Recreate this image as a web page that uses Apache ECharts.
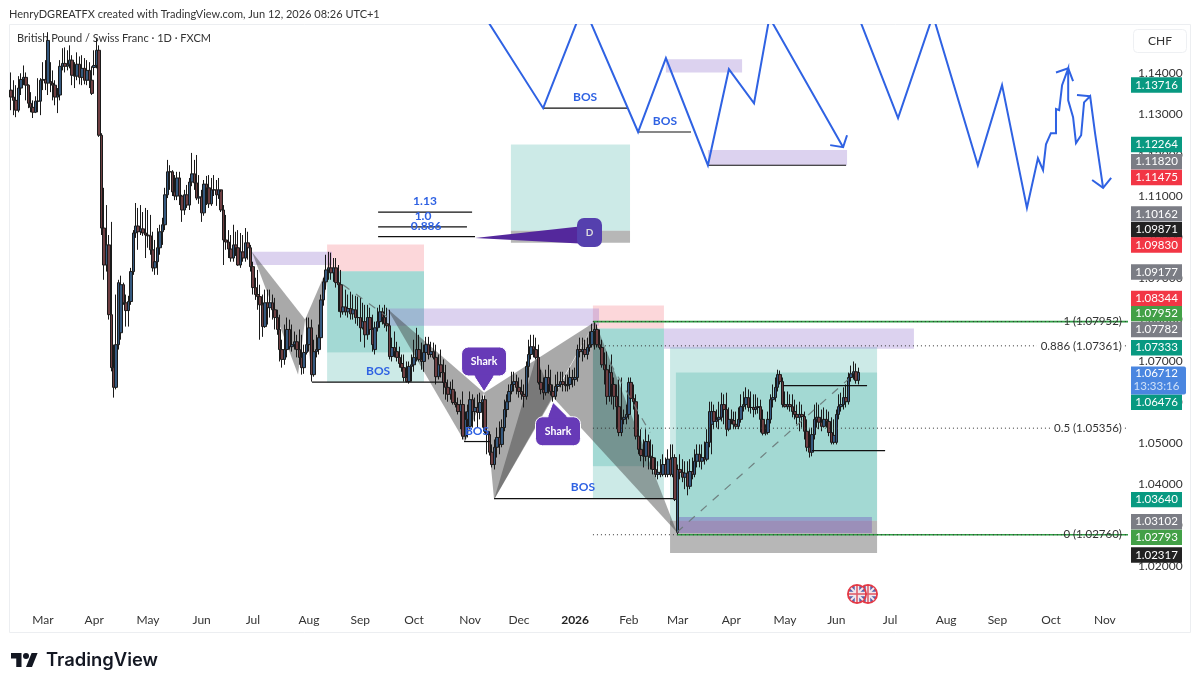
<!DOCTYPE html>
<html>
<head>
<meta charset="utf-8">
<style>html,body{margin:0;padding:0;background:#fff}#chart{width:1200px;height:688px}</style>
<script src="https://cdn.jsdelivr.net/npm/echarts@6/dist/echarts.min.js"></script>
</head>
<body>
<div id="chart"></div>
<script>
// GBP/CHF daily candles, one line per calendar month (Feb 2025 to Jun 2026)
const opens = [
1.1359,1.1342,1.1334,1.1310,1.1364,1.1385,1.1390,1.1371,1.1327,1.1317,1.1305,1.1332,1.1332,
1.1383,1.1385,1.1376,1.1380,1.1376,1.1371,1.1342,1.1347,1.1417,1.1424,1.1417,1.1422,1.1432,1.1395,1.1393,1.1422,1.1390,1.1412,1.1383,1.1407,1.1383,
1.1414,1.1419,1.1456,1.1249,1.1023,1.0933,1.0982,1.0812,1.0683,1.0635,1.0739,1.0768,1.0885,1.0841,1.0822,1.0844,1.0917,1.1011,1.1028,1.1014,1.1021,1.1011,
1.1006,1.1004,1.0970,1.0926,1.0941,1.0975,1.1014,1.1031,1.1104,1.1160,1.1160,1.1111,1.1101,1.1145,1.1101,1.1067,1.1104,1.1079,1.1135,1.1155,1.1133,1.1096,
1.1099,1.1060,1.1130,1.1121,1.1082,1.1116,1.1116,1.1104,1.1116,1.1067,1.0994,1.0989,1.0972,1.0950,1.0982,1.0975,1.0933,1.0965,1.0950,1.0987,1.0975,
1.0929,1.0878,1.0861,1.0856,1.0836,1.0783,1.0841,1.0829,1.0841,1.0824,1.0805,1.0776,1.0727,1.0703,1.0727,1.0776,1.0734,1.0739,1.0746,1.0727,1.0708,1.0683,1.0720,
1.0739,1.0780,1.0666,1.0722,1.0727,1.0756,1.0848,1.0892,1.0921,1.0926,1.0914,1.0926,1.0890,1.0885,1.0819,1.0831,1.0819,1.0827,1.0814,1.0824,1.0805,
1.0805,1.0780,1.0795,1.0763,1.0805,1.0776,1.0727,1.0780,1.0795,1.0819,1.0805,1.0790,1.0785,1.0710,1.0732,1.0722,1.0708,1.0693,1.0683,1.0659,1.0649,1.0686,
1.0690,1.0708,1.0727,1.0703,1.0698,1.0720,1.0739,1.0715,1.0722,1.0708,1.0661,1.0690,1.0671,1.0647,1.0635,1.0618,1.0630,1.0598,1.0593,1.0576,1.0593,1.0516,1.0557,
1.0540,1.0605,1.0576,1.0586,1.0574,1.0598,1.0605,1.0528,1.0520,1.0477,1.0447,1.0489,1.0513,1.0496,1.0537,1.0581,1.0600,1.0625,1.0642,1.0649,
1.0635,1.0625,1.0618,1.0613,1.0686,1.0715,1.0734,1.0727,1.0708,1.0647,1.0630,1.0622,1.0659,1.0642,1.0625,1.0613,1.0637,1.0642,1.0649,1.0642,1.0639,1.0642,1.0659,
1.0654,1.0659,1.0727,1.0722,1.0727,1.0715,1.0732,1.0739,1.0771,1.0776,1.0739,1.0732,1.0690,1.0678,1.0613,1.0671,1.0642,1.0613,1.0588,1.0525,1.0557,1.0562,
1.0569,1.0647,1.0608,1.0600,1.0516,1.0484,1.0469,1.0467,1.0503,1.0467,1.0464,1.0435,1.0423,1.0428,1.0423,1.0447,1.0423,1.0460,1.0423,1.0464,
1.0282,1.0435,1.0428,1.0416,1.0426,1.0394,1.0430,1.0423,1.0455,1.0472,1.0455,1.0464,1.0460,1.0501,1.0545,1.0576,1.0552,1.0557,1.0562,1.0593,1.0581,1.0533,
1.0557,1.0554,1.0545,1.0540,1.0557,1.0588,1.0593,1.0610,1.0586,1.0586,1.0581,1.0586,1.0588,1.0557,1.0523,1.0525,1.0557,1.0605,1.0610,1.0635,1.0666,1.0649,
1.0593,1.0588,1.0593,1.0588,1.0576,1.0569,1.0562,1.0569,1.0564,1.0528,1.0489,1.0477,1.0520,1.0557,1.0562,1.0550,1.0540,1.0557,1.0552,1.0525,1.0501,
1.0501,1.0569,1.0588,1.0593,1.0610,1.0600,1.0659,1.0668,1.0673,1.0652];
const closes = [
1.1342,1.1334,1.1310,1.1364,1.1385,1.1390,1.1371,1.1327,1.1317,1.1305,1.1332,1.1332,1.1383,
1.1385,1.1376,1.1480,1.1376,1.1371,1.1342,1.1347,1.1417,1.1424,1.1417,1.1422,1.1432,1.1395,1.1393,1.1422,1.1390,1.1412,1.1383,1.1407,1.1383,1.1351,
1.1419,1.1456,1.1249,1.1023,1.0933,1.0982,1.0812,1.0683,1.0635,1.0739,1.0890,1.0885,1.0841,1.0822,1.0844,1.0917,1.1011,1.1028,1.1014,1.1021,1.1011,1.1006,
1.1004,1.0970,1.0926,1.0941,1.0975,1.1014,1.1031,1.1104,1.1160,1.1160,1.1111,1.1101,1.1145,1.1101,1.1067,1.1104,1.1079,1.1135,1.1155,1.1133,1.1096,1.1099,
1.1060,1.1130,1.1121,1.1082,1.1116,1.1116,1.1104,1.1116,1.1067,1.0994,1.0989,1.0972,1.0950,1.0982,1.0975,1.0933,1.0965,1.0950,1.0987,1.0975,1.0929,
1.0878,1.0861,1.0856,1.0836,1.0783,1.0841,1.0829,1.0841,1.0824,1.0805,1.0776,1.0727,1.0703,1.0727,1.0776,1.0734,1.0739,1.0746,1.0727,1.0708,1.0683,1.0720,1.0739,
1.0780,1.0666,1.0722,1.0727,1.0756,1.0848,1.0892,1.0921,1.0926,1.0914,1.0926,1.0890,1.0885,1.0819,1.0831,1.0819,1.0827,1.0814,1.0824,1.0805,1.0805,
1.0780,1.0795,1.0763,1.0805,1.0776,1.0739,1.0780,1.0795,1.0819,1.0805,1.0790,1.0785,1.0710,1.0732,1.0722,1.0708,1.0693,1.0683,1.0659,1.0649,1.0686,1.0690,
1.0708,1.0727,1.0703,1.0698,1.0720,1.0739,1.0715,1.0722,1.0708,1.0661,1.0690,1.0671,1.0647,1.0635,1.0618,1.0630,1.0598,1.0593,1.0576,1.0593,1.0516,1.0557,1.0576,
1.0605,1.0576,1.0586,1.0574,1.0598,1.0605,1.0528,1.0520,1.0477,1.0447,1.0489,1.0513,1.0496,1.0537,1.0581,1.0600,1.0625,1.0642,1.0649,1.0635,
1.0625,1.0618,1.0613,1.0686,1.0715,1.0734,1.0727,1.0708,1.0647,1.0630,1.0622,1.0659,1.0642,1.0625,1.0613,1.0637,1.0642,1.0649,1.0642,1.0639,1.0642,1.0659,1.0654,
1.0659,1.0727,1.0722,1.0727,1.0715,1.0732,1.0739,1.0771,1.0776,1.0739,1.0732,1.0690,1.0678,1.0613,1.0671,1.0642,1.0613,1.0588,1.0525,1.0557,1.0562,1.0569,
1.0647,1.0608,1.0600,1.0516,1.0484,1.0469,1.0467,1.0503,1.0467,1.0464,1.0435,1.0423,1.0428,1.0423,1.0447,1.0423,1.0460,1.0423,1.0464,1.0362,
1.0435,1.0428,1.0416,1.0426,1.0394,1.0430,1.0423,1.0455,1.0472,1.0455,1.0464,1.0460,1.0501,1.0576,1.0576,1.0552,1.0557,1.0562,1.0593,1.0581,1.0533,1.0557,
1.0554,1.0545,1.0540,1.0557,1.0588,1.0593,1.0610,1.0586,1.0586,1.0581,1.0586,1.0588,1.0557,1.0523,1.0525,1.0557,1.0605,1.0610,1.0635,1.0666,1.0649,1.0593,
1.0588,1.0593,1.0588,1.0576,1.0569,1.0562,1.0569,1.0564,1.0528,1.0489,1.0477,1.0520,1.0557,1.0562,1.0550,1.0540,1.0557,1.0552,1.0525,1.0501,1.0518,
1.0569,1.0588,1.0593,1.0610,1.0600,1.0659,1.0668,1.0673,1.0652,1.06712];
const lows = [
1.1310,1.1298,1.1293,1.1305,1.1347,1.1371,1.1334,1.1315,1.1305,1.1291,1.1303,1.1305,1.1298,
1.1359,1.1359,1.1347,1.1354,1.1334,1.1322,1.1303,1.1334,1.1407,1.1402,1.1407,1.1412,1.1371,1.1364,1.1383,1.1373,1.1371,1.1373,1.1371,1.1364,1.1347,
1.1395,1.1412,1.1245,1.1006,1.0897,1.0917,1.0800,1.0674,1.0610,1.0630,1.0727,1.0751,1.0836,1.0783,1.0783,1.0836,1.0909,1.0999,1.0970,1.1006,1.1004,1.0950,
1.0975,1.0958,1.0917,1.0909,1.0909,1.0958,1.0982,1.1018,1.1096,1.1116,1.1101,1.1091,1.1091,1.1079,1.1038,1.1055,1.1072,1.1067,1.1125,1.1116,1.1091,1.1082,
1.1038,1.1053,1.1079,1.1072,1.1077,1.1101,1.1077,1.1094,1.1062,1.0933,1.0970,1.0950,1.0941,1.0941,1.0955,1.0931,1.0926,1.0941,1.0941,1.0946,1.0917,
1.0861,1.0848,1.0824,1.0751,1.0758,1.0780,1.0788,1.0805,1.0800,1.0776,1.0763,1.0698,1.0683,1.0690,1.0708,1.0727,1.0722,1.0727,1.0708,1.0690,1.0666,1.0668,1.0715,
1.0722,1.0649,1.0661,1.0708,1.0715,1.0746,1.0834,1.0873,1.0897,1.0897,1.0892,1.0878,1.0819,1.0805,1.0812,1.0810,1.0805,1.0800,1.0800,1.0790,1.0785,
1.0746,1.0776,1.0732,1.0751,1.0763,1.0722,1.0715,1.0771,1.0780,1.0788,1.0780,1.0771,1.0703,1.0698,1.0708,1.0698,1.0683,1.0673,1.0649,1.0647,1.0644,1.0649,
1.0673,1.0698,1.0698,1.0678,1.0673,1.0708,1.0703,1.0708,1.0703,1.0642,1.0654,1.0659,1.0618,1.0605,1.0600,1.0605,1.0593,1.0586,1.0569,1.0533,1.0508,1.0508,1.0513,
1.0533,1.0537,1.0552,1.0537,1.0557,1.0537,1.0523,1.0472,1.0469,1.0440,1.0435,1.0464,1.0472,1.0489,1.0528,1.0562,1.0581,1.0618,1.0625,1.0618,
1.0610,1.0605,1.0586,1.0605,1.0659,1.0703,1.0708,1.0703,1.0642,1.0618,1.0605,1.0615,1.0620,1.0615,1.0600,1.0605,1.0625,1.0635,1.0625,1.0625,1.0625,1.0630,1.0635,
1.0639,1.0649,1.0708,1.0698,1.0708,1.0703,1.0722,1.0732,1.0727,1.0732,1.0727,1.0683,1.0642,1.0593,1.0600,1.0593,1.0581,1.0533,1.0516,1.0516,1.0545,1.0545,
1.0557,1.0600,1.0581,1.0508,1.0472,1.0455,1.0440,1.0455,1.0435,1.0435,1.0423,1.0416,1.0411,1.0416,1.0418,1.0416,1.0416,1.0418,1.0416,1.0358,
1.0276,1.0411,1.0404,1.0387,1.0372,1.0387,1.0411,1.0416,1.0440,1.0440,1.0435,1.0447,1.0455,1.0489,1.0472,1.0533,1.0537,1.0533,1.0552,1.0545,1.0516,1.0528,
1.0545,1.0533,1.0533,1.0533,1.0549,1.0576,1.0581,1.0576,1.0571,1.0562,1.0569,1.0571,1.0525,1.0518,1.0518,1.0520,1.0547,1.0586,1.0600,1.0625,1.0642,1.0586,
1.0586,1.0581,1.0576,1.0562,1.0557,1.0545,1.0528,1.0537,1.0508,1.0479,1.0464,1.0467,1.0508,1.0537,1.0533,1.0528,1.0537,1.0537,1.0516,1.0496,1.0496,
1.0496,1.0557,1.0576,1.0581,1.0586,1.0593,1.0649,1.0654,1.0644,1.0642];
const highs = [
1.1402,1.1383,1.1371,1.1393,1.1400,1.1419,1.1402,1.1373,1.1354,1.1334,1.1344,1.1388,1.1388,
1.1427,1.1432,1.1500,1.1427,1.1407,1.1383,1.1364,1.1432,1.1461,1.1463,1.1456,1.1468,1.1444,1.1427,1.1451,1.1441,1.1444,1.1437,1.1432,1.1427,1.1417,
1.1456,1.1485,1.1468,1.1254,1.1121,1.1079,1.1006,1.1038,1.0739,1.0861,1.0897,1.0907,1.0890,1.0861,1.0858,1.0926,1.1018,1.1084,1.1072,1.1079,1.1062,1.1072,
1.1067,1.1055,1.1014,1.0994,1.1023,1.1031,1.1048,1.1121,1.1189,1.1176,1.1164,1.1152,1.1160,1.1160,1.1104,1.1116,1.1128,1.1145,1.1206,1.1189,1.1201,1.1152,
1.1116,1.1140,1.1150,1.1152,1.1145,1.1152,1.1140,1.1145,1.1111,1.1079,1.1055,1.1018,1.1006,1.1031,1.1014,1.1018,1.1011,1.1006,1.1023,1.1014,1.0982,
1.0941,1.0902,1.0921,1.0885,1.0861,1.0873,1.0873,1.0873,1.0861,1.0853,1.0824,1.0812,1.0751,1.0788,1.0805,1.0800,1.0788,1.0771,1.0763,1.0776,1.0763,1.0739,1.0805,
1.0805,1.0800,1.0751,1.0763,1.0788,1.0861,1.0902,1.0958,1.0965,1.0963,1.0950,1.0950,1.0933,1.0921,1.0865,1.0873,1.0861,1.0868,1.0861,1.0858,1.0856,
1.0853,1.0841,1.0836,1.0836,1.0829,1.0812,1.0795,1.0829,1.0836,1.0829,1.0836,1.0829,1.0824,1.0756,1.0771,1.0746,1.0734,1.0715,1.0715,1.0698,1.0698,1.0715,
1.0751,1.0780,1.0763,1.0744,1.0739,1.0758,1.0758,1.0746,1.0744,1.0739,1.0715,1.0727,1.0703,1.0690,1.0654,1.0649,1.0654,1.0625,1.0610,1.0605,1.0625,1.0576,1.0593,
1.0625,1.0618,1.0610,1.0618,1.0622,1.0615,1.0615,1.0545,1.0528,1.0496,1.0508,1.0537,1.0552,1.0557,1.0605,1.0618,1.0642,1.0673,1.0673,1.0666,
1.0659,1.0654,1.0642,1.0698,1.0751,1.0763,1.0763,1.0756,1.0739,1.0678,1.0659,1.0678,1.0690,1.0678,1.0642,1.0666,1.0673,1.0673,1.0673,1.0666,1.0666,1.0683,1.0678,
1.0683,1.0739,1.0756,1.0756,1.0751,1.0756,1.0771,1.0790,1.07952,1.0788,1.0776,1.0751,1.0720,1.0722,1.0690,1.0715,1.0659,1.0642,1.0654,1.0659,1.0581,1.0593,
1.0659,1.0659,1.0642,1.0618,1.0569,1.0533,1.0508,1.0533,1.0520,1.0508,1.0496,1.0464,1.0455,1.0460,1.0472,1.0464,1.0484,1.0496,1.0496,1.0472,
1.0447,1.0472,1.0460,1.0455,1.0455,1.0460,1.0464,1.0484,1.0496,1.0496,1.0496,1.0503,1.0533,1.0600,1.0600,1.0593,1.0581,1.0600,1.0622,1.0618,1.0622,1.0586,
1.0581,1.0576,1.0576,1.0586,1.0618,1.0625,1.0635,1.0630,1.0625,1.0618,1.0618,1.0610,1.0605,1.0581,1.0545,1.0576,1.0618,1.0642,1.0659,1.0678,1.0676,1.0659,
1.0625,1.0625,1.0618,1.0618,1.0605,1.0593,1.0600,1.0593,1.0576,1.0557,1.0533,1.0537,1.0593,1.0598,1.0593,1.0581,1.0586,1.0581,1.0576,1.0562,1.0557,
1.0581,1.0618,1.0622,1.0635,1.0642,1.0671,1.0688,1.0698,1.0693,1.0683];

// Axis setup: weekday bars from the first session, with blank sessions to the right
const firstSession = '2025-02-12';
const sessionCount = 458;
const monthNames = ['Jan','Feb','Mar','Apr','May','Jun','Jul','Aug','Sep','Oct','Nov','Dec'];
const priceTicks = [1.02,1.03,1.04,1.05,1.06,1.07,1.08,1.09,1.10,1.11,1.12,1.13,1.14];

const sessions = [];
const monthStart = new Set();
let d = new Date(firstSession + 'T00:00:00Z'), lastMonth = d.getUTCMonth();
while (sessions.length < sessionCount) {
  if (d.getUTCDay() % 6 !== 0) {
    const s = d.toISOString().slice(0, 10);
    if (d.getUTCMonth() !== lastMonth) { monthStart.add(sessions.length); lastMonth = d.getUTCMonth(); }
    sessions.push(s);
  }
  d = new Date(d.getTime() + 864e5);
}

// Drawing tools, in (bar, price)
const lightGreen = 'rgba(0,150,136,0.2)', deepGreen = 'rgba(0,150,136,0.36)', softRed = 'rgba(242,54,69,0.2)',
      softPurple = 'rgba(149,117,205,0.33)', softGray = 'rgba(90,90,90,0.44)';
const zones = [
  [204.7,1.12264,253.5,1.10162,lightGreen],
  [204.7,1.10162,253.5,1.09871,softGray],
  [129.4,1.09830,169.1,1.09177,softRed],
  [129.4,1.09177,169.1,1.0720,deepGreen],
  [129.4,1.0720,169.1,1.06476,lightGreen],
  [238.3,1.08344,267.4,1.07782,softRed],
  [238.3,1.07782,267.4,1.0443,deepGreen],
  [238.3,1.0443,267.4,1.03640,lightGreen],
  [269.9,1.07333,354.7,1.03102,lightGreen],
  [272.3,1.0671,354.7,1.03102,lightGreen],
  [269.9,1.03102,354.7,1.02317,softGray],
  [272.7,1.0319,352.6,1.0280,'rgba(110,80,190,0.38)'],
  [98.6,1.0965,131.4,1.0933,softPurple],
  [154,1.0827,240.8,1.0785,softPurple],
  [267.4,1.07782,369.8,1.0729,softPurple],
  [268.2,1.1434,299.4,1.1402,softPurple],
  [285.4,1.1213,342.4,1.1176,softPurple]
];
const patternFill = 'rgba(60,60,60,0.44)';
const patterns = [
  [[98.6,1.0965],[117.5,1.0666],[120.4,1.0800]],
  [[120.4,1.0800],[123.2,1.0659],[130.6,1.0941]],
  [[154,1.0827],[185.9,1.0501],[193.7,1.0622]],
  [[193.7,1.0622],[197.8,1.0362],[239.2,1.0795]],
  [[197.8,1.0362],[215,1.0708],[222,1.0610]],
  [[222,1.0610],[239.2,1.0795],[272.7,1.0282]]
];
const levelLines = [
  [123.2,1.06476,176.9,1.06476],
  [185.5,1.0503,196.1,1.0503],
  [197.8,1.03640,271.1,1.03640],
  [316.2,1.0639,350.6,1.0639],
  [328,1.0481,358,1.0481],
  [150.3,1.1062,188.8,1.1062],
  [150.3,1.1026,186.7,1.1026],
  [150.3,1.1002,190,1.1002],
  [217.9,1.1315,252.3,1.1315],
  [256.8,1.1257,278.5,1.1257],
  [285.4,1.1176,342,1.1176]
];
const trendDashes = [
  [272.7,1.0282,342.8,1.0654],
  [135.9,1.0885,154,1.0807],
  [245.3,1.0695,261.7,1.0525]
];
const projectedA = [[192.1,1.1556],[217.9,1.1315],[234.4,1.1565],[256.8,1.1257],[268.2,1.1437],[285.4,1.1176],[294,1.1410],[304.3,1.1327],[310.6,1.1536],[340.8,1.1220]];
const projectedB = [[346.9,1.1541],[363.3,1.1291],[377.6,1.1541],[396,1.1176],[405.9,1.1371],[416.1,1.1072],[420.6,1.1193],[422.7,1.1164],[423.9,1.1227],[425.9,1.1254],[428,1.1254],[428,1.1313],[429.3,1.1310],[430.5,1.1371],[433,1.1412],[433,1.1334],[435,1.1293],[436.2,1.1230],[438.3,1.1249],[439.5,1.1329],[442,1.1344],[444,1.1254],[447.3,1.1121]];
const arrowHeads = [
  [[335.5,1.1225],[340.8,1.1220],[342.4,1.1249]],
  [[428,1.1402],[433,1.1412],[435,1.1381]],
  [[436.6,1.1347],[442,1.1344]],
  [[442.8,1.1140],[447.3,1.1121],[450.6,1.1145]]
];
const blueNotes = [
  ['BOS',150.3,1.0674],['BOS',190.8,1.0528],['BOS',234.2,1.0392],['BOS',235.1,1.1342],['BOS',267.8,1.1283],
  ['1.13',169.5,1.1089],['1.0',168.7,1.1053],['0.886',170,1.1028]
];
const fibRatios = ['1','0.886','0.5','0'];
const fibPrices = [1.07952,1.07361,1.05356,1.02760];
const sharkCallouts = [[193.7,1.0698,193.7,1.0625],[224,1.0528,222,1.0598]];
const dCallout = [236.9,1.1012,190,1.0999];

// Price scale tags
const tagValues = [1.13716,1.12264,1.11820,1.11475,1.10162,1.09871,1.09830,1.09177,1.08344,1.07952,1.07782,1.07333,1.06476,1.03640,1.03102,1.02793,1.02317];
const teal='#089981', gray='#7b7d85', red='#f23645', black='#222222', green='#43a047';
const tagColors = [teal,teal,gray,red,gray,black,red,gray,red,green,gray,teal,teal,teal,gray,green,black];
const tagNudges = [0,0,-1,0.5,-17,-13,0.5,0.7,-7,-8,1,0.7,20,1,1,4,2];
const lastPrice = 1.06712, lastCountdown = '13:33:16';

const FONT = 'Lato, "Open Sans", sans-serif';
const line = (api, a, b, style) => {
  const p = api.coord(a), q = api.coord(b);
  return {type:'line', shape:{x1:p[0],y1:p[1],x2:q[0],y2:q[1]}, style};
};
const poly = (api, pts, style, closed) => ({
  type: closed ? 'polygon' : 'polyline',
  shape:{points:pts.map(c => api.coord(c))}, style
});

function drawZones(params, api) {
  const kids = [];
  zones.forEach(z => {
    const a = api.coord([z[0],z[1]]), b = api.coord([z[2],z[3]]);
    kids.push({type:'rect', shape:{x:a[0],y:a[1],width:b[0]-a[0],height:b[1]-a[1]}, style:{fill:z[4]}});
  });
  patterns.forEach(t => kids.push(poly(api, t, {fill:patternFill}, true)));
  return {type:'group', children:kids};
}

function drawLines(params, api) {
  const kids = [];
  const blue = {stroke:'#2f62e3', lineWidth:2, fill:null, lineJoin:'miter'};
  trendDashes.forEach(l => kids.push(line(api,[l[0],l[1]],[l[2],l[3]],{stroke:'rgba(105,120,120,0.9)',lineWidth:1.2,lineDash:[8,8]})));
  kids.push(line(api,[238.3,fibPrices[0]],[457.5,fibPrices[0]],{stroke:'#2f9e44',lineWidth:1.6}));
  kids.push(line(api,[272.7,fibPrices[3]],[457.5,fibPrices[3]],{stroke:'#2f9e44',lineWidth:1.6}));
  fibPrices.forEach((v) => {
    kids.push(line(api,[238.3,v],[457.5,v],{stroke:'#333',lineWidth:1,lineDash:[1,3]}));
  });
  levelLines.forEach(l => kids.push(line(api,[l[0],l[1]],[l[2],l[3]],{stroke:'#111',lineWidth:1.2})));
  kids.push(poly(api, projectedA, blue));
  kids.push(poly(api, projectedB, blue));
  arrowHeads.forEach(h => kids.push(poly(api, h, blue)));
  return {type:'group', children:kids};
}

function drawNotes(params, api) {
  const kids = [];
  blueNotes.forEach(n => {
    const p = api.coord([n[1],n[2]]);
    kids.push({type:'text', style:{x:p[0],y:p[1],text:n[0],fill:'#2f62e3',font:'bold 12px '+FONT,align:'center',verticalAlign:'middle'}});
  });
  // Fib level captions; the two inner levels mask their dotted line
  fibPrices.forEach((v,i) => {
    const p = api.coord([455,v]);
    kids.push({type:'text', style:{x:p[0],y:p[1],text:fibRatios[i]+' ('+v.toFixed(5)+')',fill:'#333',font:'11.5px '+FONT,align:'right',verticalAlign:'middle',
      backgroundColor:(i===1||i===2)?'#fff':null,padding:[0,0,0,4]}});
  });
  // Speech-bubble tags on the pattern points
  sharkCallouts.forEach(c => {
    const p = api.coord([c[0],c[1]]), t = api.coord([c[2],c[3]]);
    const dir = t[1] > p[1] ? 1 : -1;
    kids.push({type:'polygon', shape:{points:[[p[0]-11,p[1]+dir*13],[p[0]+11,p[1]+dir*13],[t[0],t[1]]]}, style:{fill:'#673ab7',stroke:'#fff',lineWidth:1}});
    kids.push({type:'rect', shape:{x:p[0]-22.5,y:p[1]-14.5,width:45,height:29,r:7}, style:{fill:'#673ab7',stroke:'#fff',lineWidth:1}});
    kids.push({type:'polygon', shape:{points:[[p[0]-10,p[1]+dir*13],[p[0]+10,p[1]+dir*13],[t[0],t[1]-dir]]}, style:{fill:'#673ab7'}});
    kids.push({type:'text', style:{x:p[0],y:p[1],text:'Shark',fill:'#fff',font:'bold 10.5px '+FONT,align:'center',verticalAlign:'middle'}});
  });
  const dBox = api.coord([dCallout[0],dCallout[1]]), dTip = api.coord([dCallout[2],dCallout[3]]);
  kids.push({type:'polygon', shape:{points:[[dBox[0]-10,dBox[1]-6],[dBox[0]-10,dBox[1]+11],[dTip[0],dTip[1]]]}, style:{fill:'#54289c'}});
  kids.push({type:'rect', shape:{x:dBox[0]-12.5,y:dBox[1]-14.5,width:25,height:29,r:7}, style:{fill:'#5540ae'}});
  kids.push({type:'text', style:{x:dBox[0],y:dBox[1],text:'D',fill:'#ddd',font:'bold 10px '+FONT,align:'center',verticalAlign:'middle'}});
  return {type:'group', children:kids};
}

function drawTags(params, api) {
  const kids = [];
  const tagX = 1131;
  tagValues.forEach((v,i) => {
    const y = api.coord([0,v])[1] + tagNudges[i];
    kids.push({type:'rect', shape:{x:tagX,y:y-7.7,width:51,height:15.4}, style:{fill:tagColors[i]}});
    kids.push({type:'text', style:{x:tagX+25.5,y:y,text:v.toFixed(5),fill:'#fff',font:'11.5px '+FONT,align:'center',verticalAlign:'middle'}});
  });
  const y = api.coord([0,lastPrice])[1] + 8;
  kids.push({type:'rect', shape:{x:tagX,y:y-14,width:55,height:28,r:[0,2,2,0]}, style:{fill:'#4a86e0'}});
  kids.push({type:'text', style:{x:tagX+25.5,y:y-7,text:lastPrice.toFixed(5),fill:'#fff',font:'11.5px '+FONT,align:'center',verticalAlign:'middle'}});
  kids.push({type:'text', style:{x:tagX+25.5,y:y+6,text:lastCountdown,fill:'#cfe0f8',font:'11.5px '+FONT,align:'center',verticalAlign:'middle'}});
  return {type:'group', children:kids};
}

const overlay = (name, z, clip, renderItem) => ({
  name, type:'custom', xAxisIndex:1, yAxisIndex:0, z, clip, silent:true,
  data:[[0,1.08]], encode:{x:0,y:1}, renderItem
});

// Event flags under the price pane
function flag(cx, cy) {
  const r = 9;
  const bar = (x1,y1,x2,y2,stroke,w) => ({type:'line',shape:{x1:cx+x1,y1:cy+y1,x2:cx+x2,y2:cy+y2},style:{stroke,lineWidth:w}});
  return [
    {type:'circle',shape:{cx,cy,r},style:{fill:'#5964ad',stroke:'#e53945',lineWidth:2}},
    bar(-6,-6,6,6,'#f3eaee',2), bar(-6,6,6,-6,'#f3eaee',2),
    bar(-8,0,8,0,'#f3eaee',4.5), bar(0,-8,0,8,'#f3eaee',4.5),
    bar(-8,0,8,0,'#e0606c',1.6), bar(0,-8,0,8,'#e0606c',1.6)
  ];
}

const chart = echarts.init(document.getElementById('chart'), null, {renderer:'canvas'});
chart.setOption({
  animation:false,
  backgroundColor:'#fff',
  grid:{left:10,width:1118,top:24,height:583,containLabel:false},
  xAxis:[{
    type:'category', data:sessions, boundaryGap:true,
    axisLine:{show:false}, axisTick:{show:false}, splitLine:{show:false},
    axisLabel:{
      margin:7, color:'#333', fontFamily:FONT, fontSize:12, hideOverlap:false,
      interval:(i) => monthStart.has(i),
      formatter:(v) => {
        const m = +v.slice(5,7) - 1;
        return m === 0 ? '{y|' + v.slice(0,4) + '}' : monthNames[m];
      },
      rich:{y:{fontWeight:'bold',color:'#222',fontFamily:FONT,fontSize:12}}
    }
  },{
    type:'value', min:-0.5, max:sessionCount-0.5, show:false, splitLine:{show:false}
  }],
  yAxis:[{
    type:'value', position:'right', min:1.01, max:1.152, interval:0.01,
    axisLine:{show:false}, axisTick:{show:false}, splitLine:{show:false},
    axisLabel:{
      margin:10, color:'#333', fontFamily:FONT, fontSize:12, showMinLabel:false, showMaxLabel:false,
      formatter:(v) => priceTicks.some(t => Math.abs(t - v) < 1e-6) ? v.toFixed(5) : ''
    }
  }],
  series:[
    overlay('zones', 1, true, drawZones),
    {
      name:'GBPCHF', type:'candlestick', xAxisIndex:0, yAxisIndex:0, z:2, silent:true,
      barWidth:3,
      data:opens.map((o,i) => [o, closes[i], lows[i], highs[i]]),
      itemStyle:{color:'#35597f', color0:'#6f3f42', borderColor:'#1a1a1a', borderColor0:'#1a1a1a', borderWidth:1}
    },
    overlay('drawings', 3, true, drawLines),
    overlay('notes', 4, true, drawNotes),
    overlay('tags', 5, false, drawTags)
  ],
  graphic:[
    {type:'rect',silent:true,shape:{x:9.5,y:24.5,width:1181,height:608},style:{fill:null,stroke:'#eceef1',lineWidth:1}},
    {type:'text',x:9,y:14,style:{text:'HenryDGREATFX created with TradingView.com, Jun 12, 2026 08:26 UTC+1',fill:'#333',font:'11px '+FONT,verticalAlign:'middle'}},
    {type:'text',x:17,y:38,style:{text:'British Pound / Swiss Franc · 1D · FXCM',fill:'#333',font:'11px '+FONT,verticalAlign:'middle'}},
    {type:'rect',shape:{x:1133.5,y:29.5,width:53,height:23,r:4},style:{fill:'#fff',stroke:'#eef0f3',lineWidth:1}},
    {type:'text',x:1160,y:41,style:{text:'CHF',fill:'#333',font:'12px '+FONT,align:'center',verticalAlign:'middle'}},
    {type:'group',children:flag(868,594).concat(flag(857,594))},
    {type:'polygon',shape:{points:[[21.5,667],[16.25,667],[16.25,658.4],[11,658.4],[11,653],[21.5,653]]},style:{fill:'#131722'}},
    {type:'polygon',shape:{points:[[32,667],[26,667],[31.6,653],[37.6,653]]},style:{fill:'#131722'}},
    {type:'circle',shape:{cx:26,cy:656,r:3},style:{fill:'#131722'}},
    {type:'text',x:46,y:660,style:{text:'TradingView',fill:'#131722',font:'600 18.4px Inter, '+FONT,verticalAlign:'middle'}}
  ]
});
</script>
</body>
</html>
